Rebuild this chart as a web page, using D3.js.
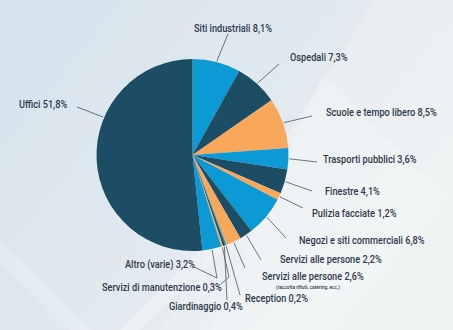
<!DOCTYPE html>
<html>
<head>
<meta charset="utf-8">
<script src="https://cdn.jsdelivr.net/npm/d3@7"></script>
<style>
  html, body { margin: 0; padding: 0; background: #e6ecef; }
  svg { display: block; }
  text { font-family: Roboto, "Noto Sans", sans-serif; font-weight: 500; fill: #2c3a4b; }
</style>
</head>
<body>
<svg id="chart" width="453" height="330"></svg>
<script>
// ---- data ----
const categories = [
  "Siti industriali", "Ospedali", "Scuole e tempo libero", "Trasporti pubblici",
  "Finestre", "Pulizia facciate", "Negozi e siti commerciali", "Servizi alle persone",
  "Servizi alle persone", "Reception", "Giardinaggio", "Servizi di manutenzione",
  "Altro (varie)", "Uffici"
];
const values = [8.1, 7.3, 8.5, 3.6, 4.1, 1.2, 6.8, 2.2, 2.6, 0.2, 0.4, 0.3, 3.2, 51.8];
const valueLabels = ["8,1%", "7,3%", "8,5%", "3,6%", "4,1%", "1,2%", "6,8%", "2,2%", "2,6%", "0,2%", "0,4%", "0,3%", "3,2%", "51,8%"];
const subLabels = ["", "", "", "", "", "", "", "", "(raccolta rifiuti, catering, ecc.)", "", "", "", "", ""];
const palette = ["#0b9ad6", "#1d4c65", "#f9a85b"];

// ---- layout (label placement, hand-tuned like the original) ----
const W = 453, H = 330;
const cx = 192.5, cy = 155, R = 96;
// text start x, baseline y, leader points after the pie edge, optional edge angle (deg)
const labelLayout = [
  { tx: 194, ty: 32,  pts: [[228, 34]] },
  { tx: 290, ty: 61,  pts: [[279, 64]] },
  { tx: 326, ty: 116, pts: [[312, 116]] },
  { tx: 323, ty: 163, pts: [[317, 162]] },
  { tx: 325, ty: 195, pts: [[312, 191]] },
  { tx: 312, ty: 217, pts: [[303, 208]] },
  { tx: 299, ty: 244, pts: [[286, 238]] },
  { tx: 280, ty: 263, pts: [[261, 260]] },
  { tx: 262, ty: 280, pts: [[245, 268]] },
  { tx: 245, ty: 302, pts: [[240, 295]] },
  { tx: 169, ty: 310, pts: [[227, 300]] },
  { tx: 102, ty: 291, pts: [[229, 277], [221, 284]] },
  { tx: 125, ty: 268, pts: [[217, 278], [194, 267]] },
  { tx: 19,  ty: 108, pts: [[77, 107]], angle: 293 }
];
const textScale = 0.8;

const svg = d3.select("#chart");
const defs = svg.append("defs");

// background
const bg = defs.append("linearGradient").attr("id", "bg")
  .attr("x1", "0").attr("y1", "0").attr("x2", "1").attr("y2", "0.6");
bg.append("stop").attr("offset", "0").attr("stop-color", "#d5e3ed");
bg.append("stop").attr("offset", "0.55").attr("stop-color", "#e1e9ef");
bg.append("stop").attr("offset", "1").attr("stop-color", "#edf0f1");
svg.append("rect").attr("width", W).attr("height", H).attr("fill", "url(#bg)");

const deco = svg.append("g").attr("fill", "#ffffff");
deco.append("path").attr("d", "M375,0 L453,0 L453,330 L160,330 Z").attr("opacity", 0.2);
deco.append("path").attr("d", "M322,76 L448,198 L335,330 L210,330 Z").attr("opacity", 0.22);
deco.append("path").attr("d", "M120,330 L230,220 L245,228 L140,330 Z").attr("opacity", 0.28);
deco.append("path").attr("d", "M0,240 L90,330 L70,330 L0,262 Z").attr("opacity", 0.18);

// pie
const pie = d3.pie().sort(null).value(d => d)(values);
const arc = d3.arc().innerRadius(0).outerRadius(R);
const g = svg.append("g").attr("transform", `translate(${cx},${cy})`);
g.selectAll("path.slice").data(pie).enter().append("path")
  .attr("class", "slice")
  .attr("d", arc)
  .attr("fill", (d, i) => palette[i % 3]);

// leader lines
const line = d3.line();
const lines = svg.append("g").attr("fill", "none").attr("stroke", "#4a5560").attr("stroke-width", 0.8);
pie.forEach((d, i) => {
  const L = labelLayout[i];
  const a = L.angle !== undefined ? L.angle * Math.PI / 180 : (d.startAngle + d.endAngle) / 2;
  const start = [cx + (R + 1) * Math.sin(a), cy - (R + 1) * Math.cos(a)];
  lines.append("path").attr("d", line([start, ...L.pts]));
});

// labels
const labels = svg.append("g");
categories.forEach((c, i) => {
  const L = labelLayout[i];
  labels.append("text")
    .attr("transform", `translate(${L.tx},${L.ty}) scale(${textScale},1)`)
    .attr("font-size", 11.5)
    .text(c + " " + valueLabels[i]);
  if (subLabels[i]) {
    labels.append("text")
      .attr("transform", `translate(${L.tx + 14},${L.ty + 8.5}) scale(${textScale},1)`)
      .attr("font-size", 6)
      .attr("font-weight", 400)
      .text(subLabels[i]);
  }
});
</script>
</body>
</html>
